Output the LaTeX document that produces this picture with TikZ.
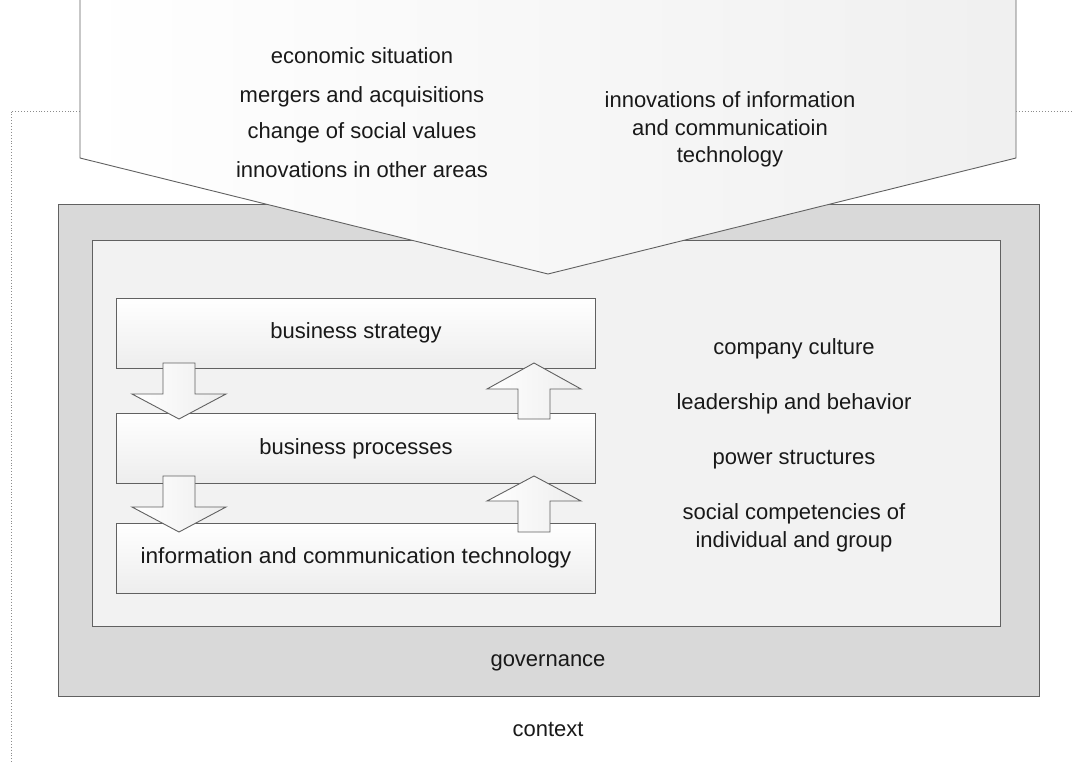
\documentclass[tikz,border=0pt]{standalone}
\usepackage{fontspec}
\setmainfont{Liberation Sans}
\begin{document}
\begin{tikzpicture}[x=1pt,y=-1pt,
  edge/.style={draw=black!62, line width=0.9pt},
  lbl/.style={font=\fontsize{22}{26}\selectfont, inner sep=0pt, anchor=base, text=black!90},
  layerbox/.style={edge, top color=white, bottom color=black!7, rectangle, inner sep=0pt, minimum width=479pt, minimum height=70pt},
  blockarrow/.style={edge, left color=white, right color=black!7},
  ctxline/.style={draw=black!45, dotted, line width=0.9pt}
]
\useasboundingbox (0,0) rectangle (1073,762);
\fill[white] (0,0) rectangle (1073,762);

% governance (outer) and organisation (inner) boxes
\node[edge, fill=black!15, rectangle, inner sep=0pt, minimum width=981pt, minimum height=492pt] (gov) at (548.5,450) {};
\node[edge, fill=black!5, rectangle, inner sep=0pt, minimum width=908pt, minimum height=386pt] (org) at (546,433) {};

% context pentagon
\coordinate (pl) at (80,158);
\coordinate (pr) at (1016,158);
\coordinate (tip) at (548,274);
\path[edge, left color=white, right color=black!6] (80,-5) -- (pl) -- (tip) -- (pr) -- (1016,-5);
\path[fill=white] (80,-5) rectangle (1016,0);

% dotted context frame
\coordinate (cl) at (80,111);
\coordinate (cr) at (1016,111);
\draw[ctxline] (cl) -- (11,111) -- (11,765);
\draw[ctxline] (cr) -- (1076,111);

% layer boxes
\node[layerbox] (strat) at (355.5,333) {};
\node[layerbox] (proc) at (355.5,448) {};
\node[layerbox] (ict) at (355.5,558) {};

% block arrows
\path[blockarrow] (163,363) -- (195,363) -- (195,394) -- (226,394) -- (179,419) -- (132,394) -- (163,394) -- cycle;
\path[blockarrow] (163,476) -- (195,476) -- (195,507) -- (226,507) -- (179,532) -- (132,507) -- (163,507) -- cycle;
\path[blockarrow] (518,419) -- (550,419) -- (550,389) -- (581,389) -- (534,363) -- (487,389) -- (518,389) -- cycle;
\path[blockarrow] (518,532) -- (550,532) -- (550,501) -- (581,501) -- (534,476) -- (487,501) -- (518,501) -- cycle;

% texts
\node[lbl] (t1) at (362,64) {economic situation};
\node[lbl] (t2) at (362,103) {mergers and acquisitions};
\node[lbl] (t3) at (362,139) {change of social values};
\node[lbl] (t4) at (362,178) {innovations in other areas};
\node[lbl] (t5) at (730,108) {innovations of information};
\node[lbl] (t6) at (730,136) {and communicatioin};
\node[lbl] (t7) at (730,163) {technology};

\node[lbl] at (356,338) {business strategy};
\node[lbl] at (356,454) {business processes};
\node[lbl, xscale=1.03] at (356,563) {information and communication technology};

\node[lbl] (r1) at (794,354) {company culture};
\node[lbl] (r2) at (794,409) {leadership and behavior};
\node[lbl] (r3) at (794,464) {power structures};
\node[lbl] (r4) at (794,519) {social competencies of};
\node[lbl] (r5) at (794,547) {individual and group};

\node[lbl] (govl) at (548,666) {governance};
\node[lbl] (ctxl) at (548,736) {context};
\end{tikzpicture}
\end{document}
